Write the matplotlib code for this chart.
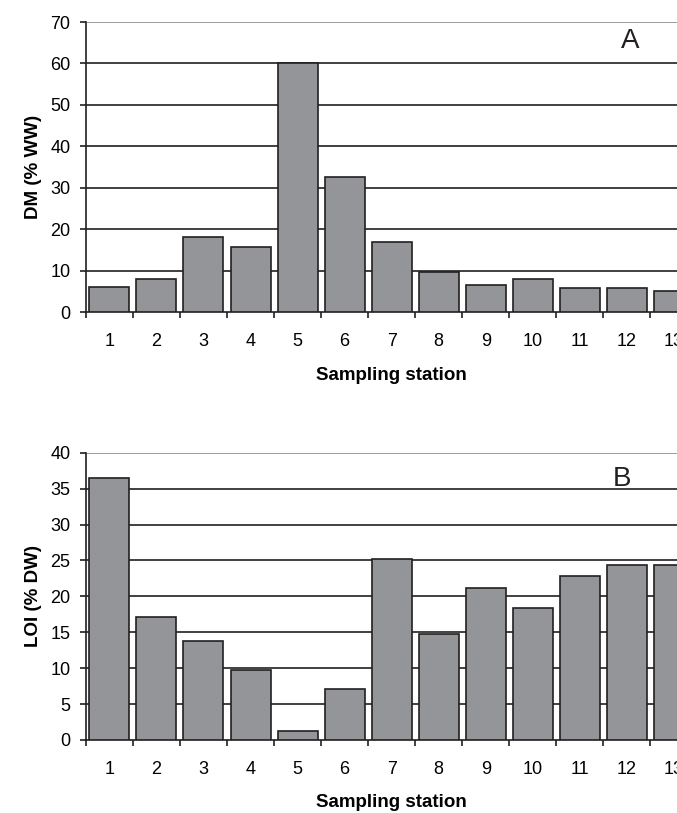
import numpy as np
import matplotlib
matplotlib.use("Agg")
import matplotlib.pyplot as plt

plt.rcParams['font.family'] = ['Liberation Sans', 'DejaVu Sans']

stations = [str(i) for i in range(1, 14)]
dm = [6.1, 8.0, 18.0, 15.8, 60.0, 32.7, 16.9, 9.7, 6.5, 8.0, 5.9, 5.9, 5.1]
loi = [36.5, 17.1, 13.8, 9.8, 1.3, 7.1, 25.2, 14.7, 21.1, 18.4, 22.9, 24.4, 24.4]

bar_color = '#939598'
dark = '#231f20'

fig = plt.figure(figsize=(6.77, 8.13), dpi=100)

# right edge of axes deliberately runs past the figure like the original crop
ax1 = fig.add_axes([0.1268, 0.6162, 0.9034, 0.3567])
ax2 = fig.add_axes([0.1268, 0.0898, 0.9034, 0.3534])


def draw_panel(ax, values, ymax, ystep, ylabel, letter, letter_x, letter_y):
    x = np.arange(len(values))
    ax.bar(x, values, 0.85, color=bar_color, edgecolor=dark, linewidth=1.2, zorder=3)
    ax.set_xlim(-0.5, len(values) - 0.5)
    ax.set_ylim(0, ymax)
    ax.set_yticks(np.arange(0, ymax + 1, ystep))
    ax.set_xticks(x)
    ax.set_xticklabels(stations)
    ax.set_xticks(np.arange(-0.5, len(values), 1), minor=True)
    ax.tick_params(axis='x', which='major', length=0, pad=15, labelsize=13)
    ax.tick_params(axis='x', which='minor', length=4, width=1.2, color=dark, direction='out')
    ax.tick_params(axis='y', length=4, width=1.2, color=dark, pad=7, labelsize=13)
    ax.grid(axis='y', color=dark, linewidth=1.2, zorder=0)
    ax.get_ygridlines()[-1].set_color('#8c8c8c')
    ax.get_ygridlines()[0].set_visible(False)
    ax.set_axisbelow(True)
    for s in ['top', 'right']:
        ax.spines[s].set_visible(False)
    ax.spines['left'].set_color(dark)
    ax.spines['bottom'].set_color(dark)
    ax.spines['left'].set_linewidth(1.2)
    ax.spines['bottom'].set_linewidth(1.2)
    ax.set_xlabel('Sampling station', fontsize=13.5, fontweight='bold', labelpad=12)
    ax.set_ylabel(ylabel, fontsize=13.5, fontweight='bold', labelpad=6)
    ax.text(letter_x, letter_y, letter, fontsize=20, ha='center', va='center', color=dark)


draw_panel(ax1, dm, 70, 10, 'DM (% WW)', 'A', 11.07, 65.5)
draw_panel(ax2, loi, 40, 5, 'LOI (% DW)', 'B', 10.9, 36.4)

fig.savefig('out.png', dpi=100)
